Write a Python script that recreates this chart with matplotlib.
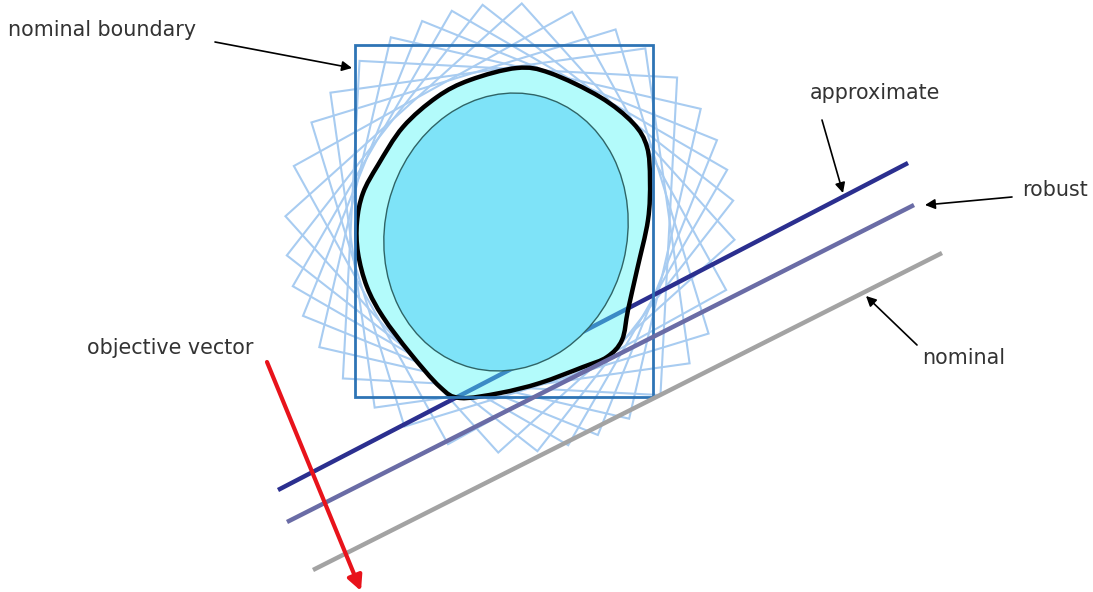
import numpy as np
import matplotlib
matplotlib.use('Agg')
from matplotlib import pyplot as plt
from matplotlib.patches import Polygon, Ellipse, Rectangle, PathPatch
from matplotlib.path import Path

# everything is in picture pixels, y grows downwards
box = (355, 45, 298, 352)                  # x, y, width, height of nominal box
sq_center = (510, 228)
sq_side = 318
sq_angles = [-42, -29, -17, -8, 3, 13, 22, 30, 38]

outline_x = [517, 550, 600, 633, 647, 650, 648, 637, 628, 622, 607, 583, 540, 500,
             460, 440, 410, 383, 367, 358, 357, 363, 378, 403, 437, 470]
outline_y = [68, 73, 97, 123, 147, 180, 220, 270, 310, 340, 357, 367, 383, 393,
             398, 387, 353, 317, 287, 253, 222, 193, 165, 127, 97, 80]

ell_center = (506, 232)
ell_size = (242, 280)
ell_angle = 14

lines = {
    'approximate': ((278, 490), (908, 163), '#2b2f8f'),
    'robust': ((287, 522), (914, 205), '#6a6ca6'),
    'nominal': ((313, 570), (942, 253), '#a3a3a3'),
}
objective = ((267, 362), (361, 591))

labels = ['nominal boundary', 'approximate', 'robust', 'nominal', 'objective vector']
label_pos = [(8, 30), (810, 93), (1022, 190), (922, 358), (87, 348)]
pointer_tail = [(215, 42), (822, 120), (1012, 197), (917, 345), None]
pointer_head = [(352, 68), (843, 193), (925, 205), (866, 296), None]


def smooth_closed(pts):
    # catmull-rom through the points, written as cubic bezier pieces
    n = len(pts)
    verts = [pts[0]]
    codes = [Path.MOVETO]
    for i in range(n):
        p0, p1, p2, p3 = pts[i - 1], pts[i], pts[(i + 1) % n], pts[(i + 2) % n]
        verts += [p1 + (p2 - p0) / 6, p2 - (p3 - p1) / 6, p2]
        codes += [Path.CURVE4] * 3
    verts.append(pts[0])
    codes.append(Path.CLOSEPOLY)
    return Path(verts, codes)


fig = plt.figure(figsize=(10.93, 5.92), dpi=100)
ax = fig.add_axes([0, 0, 1, 1])
ax.set_xlim(0, 1093)
ax.set_ylim(592, 0)
ax.axis('off')

# rotated copies of the box
half = sq_side / 2
corners = np.array([[-half, -half], [half, -half], [half, half], [-half, half]])
for a in sq_angles:
    t = np.radians(a)
    rot = np.array([[np.cos(t), -np.sin(t)], [np.sin(t), np.cos(t)]])
    pts = corners @ rot.T + np.array(sq_center)
    ax.add_patch(Polygon(pts, closed=True, fill=False, ec='#a8ccf1', lw=1.5, zorder=1))

outline = smooth_closed(np.column_stack([outline_x, outline_y]).astype(float))
ax.add_patch(PathPatch(outline, fc='#b3fbfb', ec='none', zorder=3))

p0, p1, c = lines['approximate']
ax.plot([p0[0], p1[0]], [p0[1], p1[1]], color=c, lw=3.2, solid_capstyle='butt', zorder=2)
inside, = ax.plot([p0[0], p1[0]], [p0[1], p1[1]], color='#3b8bc6', lw=3.2, zorder=3.5)
inside.set_clip_path(PathPatch(outline, transform=ax.transData))

ax.add_patch(Ellipse(ell_center, ell_size[0], ell_size[1], angle=ell_angle,
                     fc='#7ee3f8', ec='#2f6466', lw=1, zorder=4))
ax.add_patch(PathPatch(outline, fill=False, ec='black', lw=3.2, zorder=5))

ax.add_patch(Rectangle(box[:2], box[2], box[3], fill=False, ec='#2e74b5', lw=2, zorder=6))

for name in ['robust', 'nominal']:
    p0, p1, c = lines[name]
    ax.plot([p0[0], p1[0]], [p0[1], p1[1]], color=c, lw=3.2, solid_capstyle='butt', zorder=6)

ax.annotate('', xy=objective[1], xytext=objective[0],
            arrowprops=dict(arrowstyle='-|>', color='#e8131b', lw=3, mutation_scale=22,
                            shrinkA=0, shrinkB=0), zorder=7)

for lab, pos, tail, head in zip(labels, label_pos, pointer_tail, pointer_head):
    ax.text(pos[0], pos[1], lab, fontsize=14.9, color='#333333', ha='left', va='center',
            family='DejaVu Sans')
    if tail is not None:
        ax.annotate('', xy=head, xytext=tail,
                    arrowprops=dict(arrowstyle='-|>', color='black', lw=1.2,
                                    mutation_scale=15, shrinkA=0, shrinkB=0))

fig.savefig('out.png', dpi=100)
plt.close()
